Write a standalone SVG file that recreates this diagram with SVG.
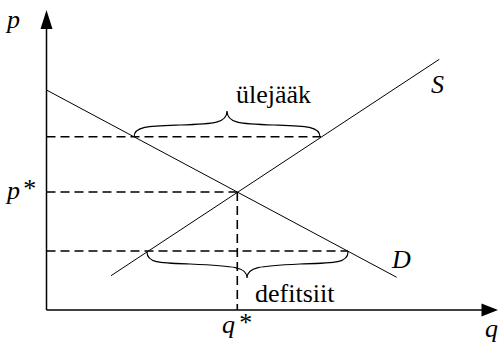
<svg xmlns="http://www.w3.org/2000/svg" width="499" height="344" viewBox="0 0 499 344">
<style>
.ax{stroke:#000;stroke-width:1.5;fill:none}
.ln{stroke:#000;stroke-width:1;fill:none}
.ds{stroke:#000;stroke-width:1.6;fill:none;stroke-dasharray:9 5}
.br{stroke:#000;stroke-width:1.2;fill:none}
text{font-family:'Liberation Serif','Times New Roman',serif;font-size:26px;fill:#000}
.it{font-style:italic}
</style>
<rect width="499" height="344" fill="#fff"/>
<g id="axes">
<line class="ax" x1="46.5" y1="310" x2="46.5" y2="26"/>
<polygon points="46.5,10 40.5,29 52.5,29" fill="#000"/>
<line class="ax" x1="46.5" y1="310" x2="484" y2="310"/>
<polygon points="498,310 481.5,303.5 481.5,316.5" fill="#000"/>
</g>
<g id="connectors">
<line id="demand" class="ln" x1="46.5" y1="90" x2="396.7" y2="277.3"/>
<line id="supply" class="ln" x1="111" y1="275.7" x2="439.3" y2="59.3"/>
<line class="ds" x1="46.5" y1="136.7" x2="321" y2="136.7"/>
<line class="ds" x1="46.5" y1="192" x2="237.3" y2="192"/>
<line class="ds" x1="237.3" y1="192" x2="237.3" y2="310"/>
<line class="ds" x1="46.5" y1="251" x2="348" y2="251"/>
<path class="br" d="M134,137 C134,126 150,126 180,125 C215,124 227,123 227,111 C227,123 239,124 274,125 C304,126 320,126 320,137"/>
<path class="br" d="M147,252 C147,263 160,263 190,264 C235,266 247,267 247,278 C247,267 259,266 300,264 C335,263 348,263 348,252"/>
</g>
<g id="labels">
<text class="it" x="7" y="28">p</text>
<text class="it" x="7" y="199">p<tspan dx="2" dy="-2">*</tspan></text>
<text class="it" x="222" y="333">q<tspan dx="3" dy="-2">*</tspan></text>
<text class="it" x="485" y="337">q</text>
<text class="it" x="431" y="93">S</text>
<text class="it" x="392" y="268">D</text>
<text x="236" y="103">ülejääk</text>
<text x="255" y="302">defitsiit</text>
</g>
</svg>
